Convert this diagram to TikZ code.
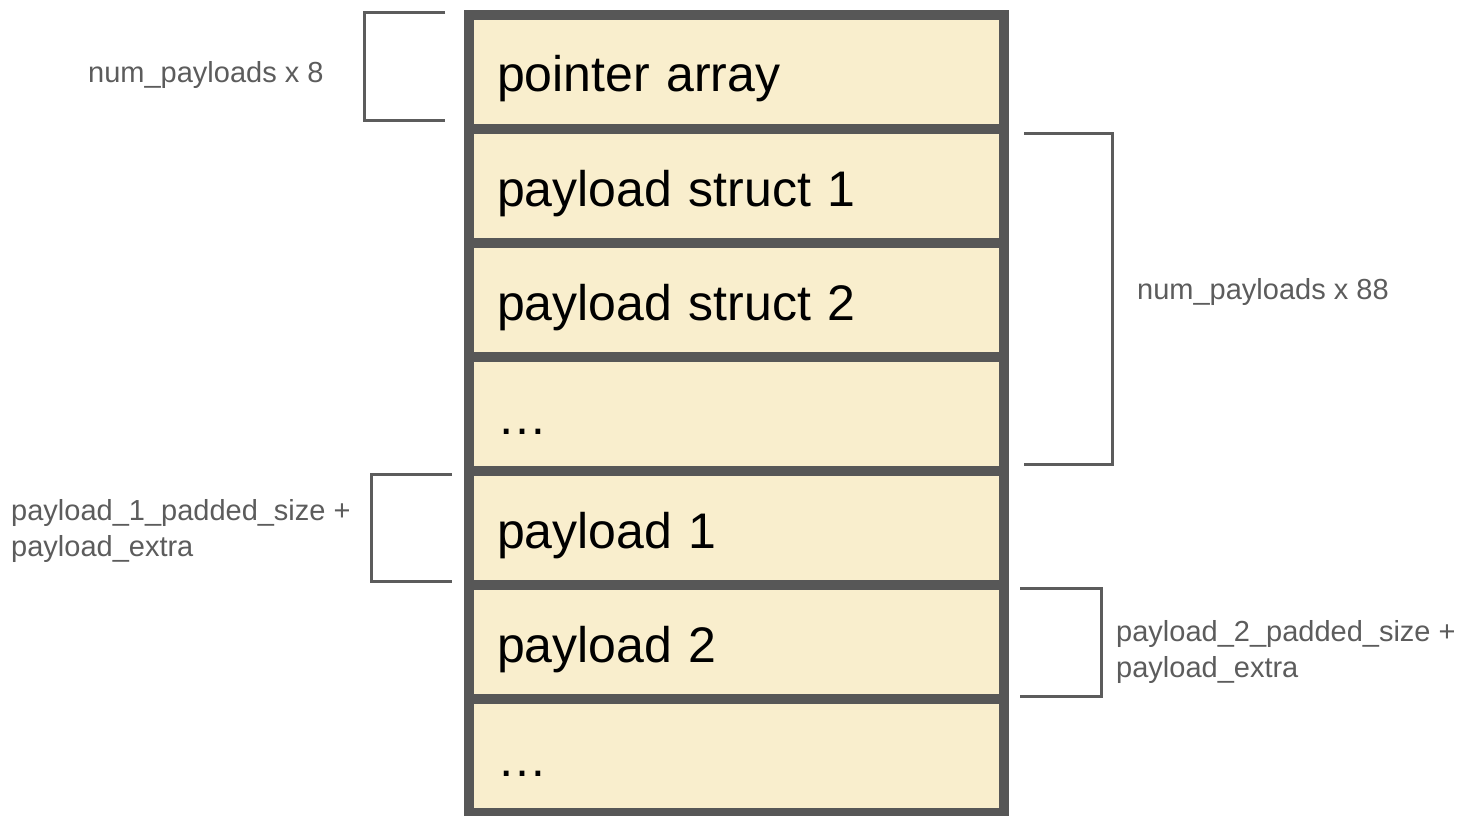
\documentclass[tikz,border=0pt]{standalone}
\usepackage{fontspec}
\setmainfont{Liberation Sans}
\usetikzlibrary{positioning}
\definecolor{cellfill}{HTML}{F9EECD}
\definecolor{celledge}{HTML}{575757}
\definecolor{notegray}{HTML}{5C5C5C}
\tikzset{
  cell/.style={draw=celledge, fill=cellfill, line width=10pt, outer sep=0pt,
    minimum width=535pt, minimum height=114pt, inner xsep=28pt,
    text width=479pt, align=left, text height=40pt, text depth=0pt,
    font=\fontsize{50}{60}\selectfont},
  note/.style={anchor=west, inner sep=0pt, align=left, text=notegray,
    font=\fontsize{29}{36}\selectfont},
  brace/.style={draw=notegray, line width=3pt}
}
\begin{document}
\begin{tikzpicture}[x=1pt,y=-1pt]
  \useasboundingbox (0,0) rectangle (1475,816);
  \node[cell] (ptr) at (736.5,72) {pointer array};
  \node[cell, below=0pt of ptr] (ps1) {payload struct 1};
  \node[cell, below=0pt of ps1] (ps2) {payload struct 2};
  \node[cell, below=0pt of ps2] (psdots) {…};
  \node[cell, below=0pt of psdots] (pl1) {payload 1};
  \node[cell, below=0pt of pl1] (pl2) {payload 2};
  \node[cell, below=0pt of pl2] (pldots) {…};
  \draw[brace] (445,13) -- (364,13) -- (364,120) -- (445,120);
  \draw[brace] (1024,133) -- (1112,133) -- (1112,464) -- (1024,464);
  \draw[brace] (452,474) -- (371,474) -- (371,581) -- (452,581);
  \draw[brace] (1020,588) -- (1101,588) -- (1101,696) -- (1020,696);
  \node[note] (ptrsize) at (88,75) {num\_payloads x 8};
  \node[note] (pssize) at (1137,292) {num\_payloads x 88};
  \node[note] (pl1size) at (11,531) {payload\_1\_padded\_size +\\payload\_extra};
  \node[note] (pl2size) at (1116,652) {payload\_2\_padded\_size +\\payload\_extra};
\end{tikzpicture}
\end{document}
